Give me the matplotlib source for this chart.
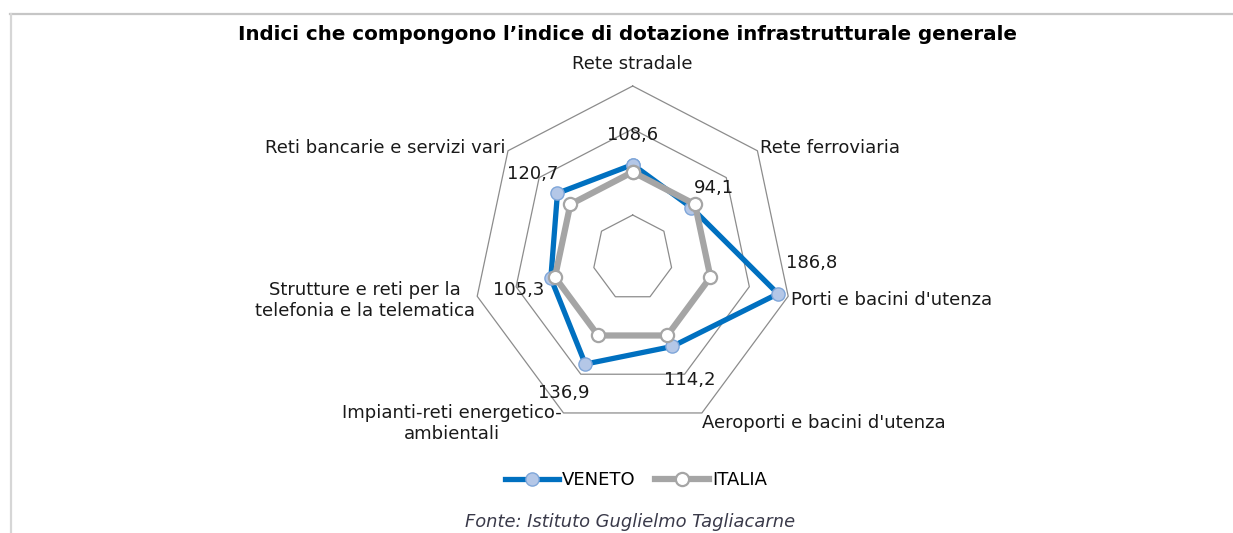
import numpy as np
import matplotlib
matplotlib.use("Agg")
import matplotlib.pyplot as plt
from matplotlib.lines import Line2D

plt.rcParams["font.family"] = ["DejaVu Sans"]

categorie = [
    "Rete stradale",
    "Rete ferroviaria",
    "Porti e bacini d'utenza",
    "Aeroporti e bacini d'utenza",
    "Impianti-reti energetico-\nambientali",
    "Strutture e reti per la\ntelefonia e la telematica",
    "Reti bancarie e servizi vari",
]
veneto = [108.6, 94.1, 186.8, 114.2, 136.9, 105.3, 120.7]
italia = [100, 100, 100, 100, 100, 100, 100]
anelli = [50, 100, 150, 200]
valore_max = 200

BLU = "#0070C0"
GRIGIO = "#A5A5A5"

n = len(categorie)
theta = np.pi / 2 - np.arange(n) * 2 * np.pi / n


def poligono(vals):
    r = np.asarray(vals, dtype=float) / valore_max
    x = r * np.cos(theta)
    y = r * np.sin(theta)
    return np.append(x, x[0]), np.append(y, y[0])


fig = plt.figure(figsize=(12.33, 5.33), dpi=100)
W, H = 1233, 533

# radar box in pixels (slightly taller than wide)
cx, cy, rx, ry = 632.7, 258.0, 159.5, 172.0
ax = fig.add_axes([(cx - rx) / W, (H - cy - ry) / H, 2 * rx / W, 2 * ry / H])
ax.set_xlim(-1, 1)
ax.set_ylim(-1, 1)
ax.axis("off")

# griglia
for v in anelli:
    gx, gy = poligono([v] * n)
    ax.plot(gx, gy, color="#8C8C8C", lw=0.9, zorder=1, clip_on=False)

# Veneto sotto, Italia sopra
vx, vy = poligono(veneto)
ax.plot(vx, vy, color=BLU, lw=3.8, zorder=2, clip_on=False,
        marker="o", ms=9.5, mfc="#B4C7E7", mec="#7FA6D9", mew=1.0)
ix, iy = poligono(italia)
ax.plot(ix, iy, color=GRIGIO, lw=4.5, zorder=3, clip_on=False,
        marker="o", ms=9.5, mfc="white", mec=GRIGIO, mew=1.6)

# etichette dei valori del Veneto
offsets = [(0, 30), (23, 20), (34, 31), (18, -34), (-22, -29), (-32, -12), (-25, 19)]
for i, v in enumerate(veneto):
    ax.annotate(f"{v:.1f}".replace(".", ","), (vx[i], vy[i]),
                xytext=offsets[i], textcoords="offset pixels",
                ha="center", va="center", fontsize=13, color="#1a1a1a")

# etichette delle categorie
pos_cat = [
    (0.0, 1.128, "center"),
    (0.799, 0.64, "left"),
    (0.993, -0.244, "left"),
    (0.434, -0.959, "left"),
    (-1.132, -0.962, "center"),
    (-1.681, -0.247, "center"),
    (-0.80, 0.64, "right"),
]
for testo, (tx, ty, ha) in zip(categorie, pos_cat):
    ax.text(tx, ty, testo, ha=ha, va="center", fontsize=13,
            color="#1a1a1a", multialignment="center", linespacing=1.15)

fig.text(628 / W, 1 - 35 / H,
         "Indici che compongono l\u2019indice di dotazione infrastrutturale generale",
         ha="center", va="center", fontsize=14.3, fontweight="bold", color="black")

handles = [
    Line2D([], [], color=BLU, lw=3.8, marker="o", ms=9.5, mfc="#B4C7E7",
           mec="#7FA6D9", mew=1.0),
    Line2D([], [], color=GRIGIO, lw=4.5, marker="o", ms=9.5, mfc="white",
           mec=GRIGIO, mew=1.6),
]
fig.legend(handles, ["VENETO", "ITALIA"], loc="center",
           bbox_to_anchor=(636 / W, 1 - 480 / H), ncol=2, frameon=False,
           fontsize=13, handlelength=3.0, handletextpad=0.15, columnspacing=1.1)

fig.text(630 / W, 1 - 522 / H, "Fonte: Istituto Guglielmo Tagliacarne",
         ha="center", va="center", fontsize=12.9, style="italic", color="#3a3a4a")

# cornice grigia in alto e a sinistra
fig.add_artist(Line2D([10 / W, 1], [1 - 14 / H, 1 - 14 / H], color="#C6C6C6", lw=1.6))
fig.add_artist(Line2D([11 / W, 11 / W], [0, 1 - 14 / H], color="#D6D6D6", lw=1.6))

fig.savefig("out.png", dpi=100)
